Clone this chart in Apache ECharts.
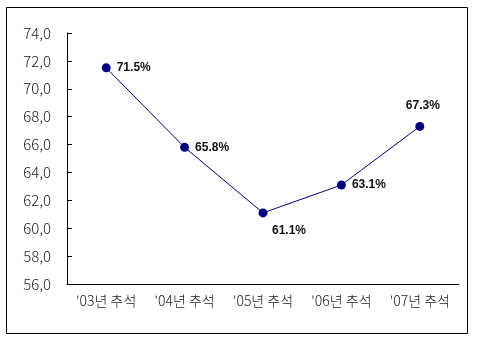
<!DOCTYPE html>
<html><head><meta charset="utf-8">
<script src="https://cdn.jsdelivr.net/npm/echarts@6/dist/echarts.min.js"></script>
<style>html,body{margin:0;padding:0;background:#fff}#c{width:480px;height:345px}</style>
</head><body><div id="c"></div>
<script>
var categories = ["'03년 추석", "'04년 추석", "'05년 추석", "'06년 추석", "'07년 추석"];
var values = [71.5, 65.8, 61.1, 63.1, 67.3];
var yMin = 56, yMax = 74, yStep = 2;

var labelPos = [
  {position: 'right', distance: 6},
  {position: 'right', distance: 6},
  {position: 'bottom', distance: 7, offset: [26, 0]},
  {position: 'right', distance: 6},
  {position: 'top', distance: 10, offset: [3, 0]}
];
var chart = echarts.init(document.getElementById('c'));
chart.setOption({
  animation: false,
  backgroundColor: '#fff',
  graphic: [{type: 'rect', shape: {x: 6.5, y: 7.5, width: 461, height: 326}, style: {fill: 'none', stroke: '#000', lineWidth: 1}}],
  grid: {left: 67, top: 33, right: 21, bottom: 61},
  xAxis: {
    type: 'category', data: categories, boundaryGap: true,
    axisLine: {lineStyle: {color: '#000', width: 1}},
    axisTick: {inside: true, length: 5, lineStyle: {color: '#000'}},
    axisLabel: {interval: 0, hideOverlap: false, color: '#222', fontSize: 14, margin: 10, fontFamily: 'Noto Sans CJK KR', fontWeight: 300}
  },
  yAxis: {
    type: 'value', min: yMin, max: yMax, interval: yStep,
    splitLine: {show: false},
    axisLine: {show: true, lineStyle: {color: '#000', width: 1}},
    axisTick: {show: true, inside: true, length: 5, lineStyle: {color: '#000'}},
    axisLabel: {color: '#222', fontSize: 15, margin: 16, fontFamily: 'Noto Sans CJK KR', fontWeight: 300,
      formatter: function(v){ return v.toFixed(1).replace('.', ','); }}
  },
  series: [{
    type: 'line',
    data: values.map(function(v, i){
      return {value: v, label: Object.assign({}, labelPos[i])};
    }),
    symbol: 'circle', symbolSize: 9,
    lineStyle: {color: '#000080', width: 1},
    itemStyle: {color: '#000080'},
    label: {show: true, color: '#111', fontSize: 12, fontWeight: 'bold', fontFamily: 'Arial',
      formatter: function(p){ return p.value.toFixed(1) + '%'; }}
  }]
});
</script></body></html>
